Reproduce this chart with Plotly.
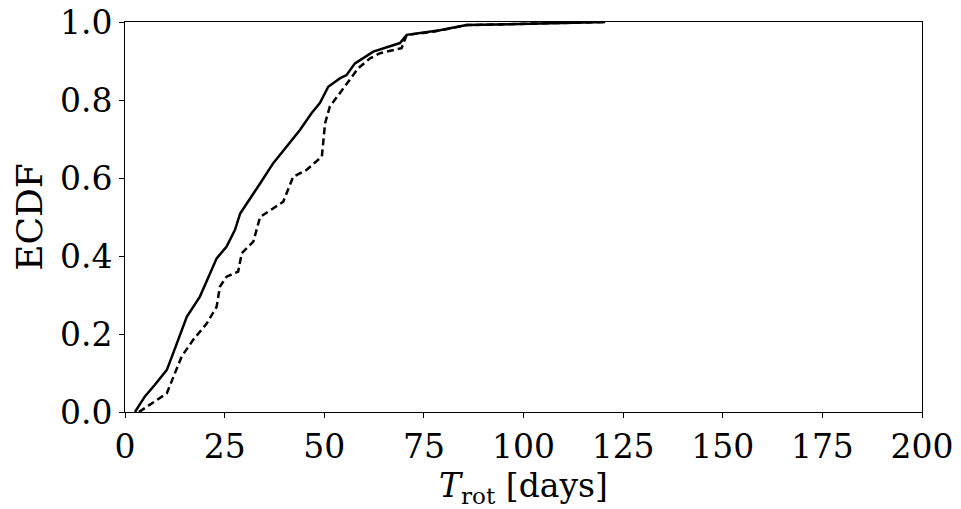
import plotly.graph_objects as go

# Solid ECDF curve
solid_x = [2.5, 5, 7.5, 10.5, 12.1, 13.8, 15.5, 18.8, 20.9, 23, 25.5, 27.6, 28.9, 30.9,
           33.9, 37.2, 40.2, 43.9, 46.8, 48.9, 51, 54, 55.6, 57.7, 62.3, 69, 70.7, 79,
           85.7, 106.6, 120.5]
solid_y = [0.0, 0.04, 0.07, 0.108, 0.151, 0.197, 0.244, 0.296, 0.347, 0.394, 0.424, 0.467,
           0.509, 0.539, 0.586, 0.638, 0.676, 0.723, 0.766, 0.792, 0.834, 0.856, 0.864,
           0.894, 0.924, 0.946, 0.967, 0.979, 0.992, 0.997, 1.0]

# Dashed ECDF curve
dash_x = [3.5, 5, 10.5, 12.5, 14.2, 17.1, 20.5, 23, 23.8, 25.5, 28.4, 29.3, 32.2, 33.9,
          39.7, 42.2, 45.6, 49.4, 50.2, 51.4, 54.8, 58.5, 61.5, 64, 69.4, 70.7, 77.4,
          85.7, 106.6, 120.5]
dash_y = [0.0, 0.01, 0.048, 0.099, 0.142, 0.185, 0.227, 0.27, 0.321, 0.347, 0.36, 0.407,
          0.437, 0.50, 0.539, 0.603, 0.621, 0.655, 0.74, 0.783, 0.83, 0.881, 0.907, 0.92,
          0.933, 0.967, 0.975, 0.992, 0.997, 1.0]

x_ticks = [0, 25, 50, 75, 100, 125, 150, 175, 200]
y_ticks = [0.0, 0.2, 0.4, 0.6, 0.8, 1.0]

FONT = "DejaVu Serif"

fig = go.Figure()
fig.add_trace(go.Scatter(x=dash_x, y=dash_y, mode="lines",
                         line=dict(color="black", width=2.5, dash="7px,4px")))
fig.add_trace(go.Scatter(x=solid_x, y=solid_y, mode="lines",
                         line=dict(color="black", width=2.5)))

axis_common = dict(showline=True, linecolor="black", linewidth=1, mirror=True,
                   ticks="outside", ticklen=5, tickwidth=1, tickcolor="black",
                   showgrid=False, zeroline=False, automargin=False,
                   tickfont=dict(family=FONT, size=33, color="black"))

fig.update_layout(
    width=961, height=509,
    margin=dict(l=125, r=39, t=22, b=97),
    plot_bgcolor="white", paper_bgcolor="white",
    showlegend=False,
    xaxis=dict(range=[0, 200], tickvals=x_ticks,
               title=dict(text="<i>T</i><sub>rot</sub> [days]",
                          font=dict(family=FONT, size=33, color="black"), standoff=6),
               **axis_common),
    yaxis=dict(range=[0, 1], tickvals=y_ticks, tickformat=".1f",
               title=dict(text="ECDF", font=dict(family=FONT, size=36, color="black"),
                          standoff=6),
               **axis_common),
)

fig.write_html("out.html",
               config={"displayModeBar": False},
               post_script="document.body.style.margin='0';document.body.style.overflow='hidden';")
